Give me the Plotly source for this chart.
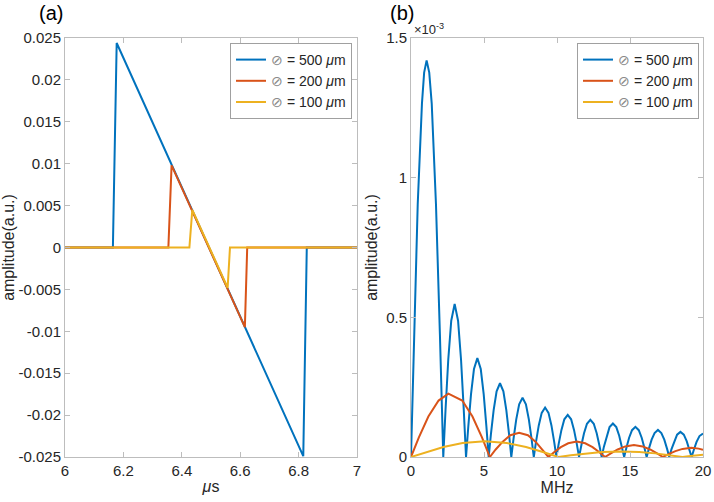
import plotly.graph_objects as go

# --- data ---
sizes = ["500", "200", "100"]
colors = ["#0072BD", "#D95319", "#EDB120"]

# (a) time signals, microseconds / a.u.
t_500 = [6.0, 6.164, 6.177, 6.816, 6.828, 7.0]
p_500 = [0, 0, 0.0244, -0.0249, 0, 0]
t_200 = [6.0, 6.354, 6.365, 6.616, 6.624, 7.0]
p_200 = [0, 0, 0.0098, -0.0095, 0, 0]
t_100 = [6.0, 6.426, 6.436, 6.557, 6.565, 7.0]
p_100 = [0, 0, 0.0045, -0.0048, 0, 0]

# (b) spectra, MHz / amplitude in units of 1e-3
f_500 = [0, 0.2, 0.46, 0.75, 0.9, 1.07, 1.25, 1.42, 1.71, 1.98, 2.21,
         2.366, 2.553, 2.756, 2.99, 3.224, 3.427, 3.614, 3.77,
         3.925, 4.111, 4.313, 4.545, 4.778, 4.979, 5.165, 5.32,
         5.475, 5.661, 5.863, 6.095, 6.328, 6.529, 6.715, 6.87,
         7.024, 7.209, 7.409, 7.64, 7.871, 8.071, 8.256, 8.41,
         8.565, 8.751, 8.953, 9.185, 9.418, 9.619, 9.805, 9.96,
         10.115, 10.301, 10.503, 10.735, 10.968, 11.169, 11.355, 11.51,
         11.665, 11.851, 12.053, 12.285, 12.518, 12.719, 12.905, 13.06,
         13.214, 13.399, 13.599, 13.83, 14.061, 14.261, 14.446, 14.6,
         14.754, 14.939, 15.139, 15.37, 15.601, 15.801, 15.986, 16.14,
         16.295, 16.481, 16.683, 16.915, 17.148, 17.349, 17.535, 17.69,
         17.843, 18.027, 18.226, 18.455, 18.685, 18.883, 19.067, 19.22,
         19.374, 19.559, 19.759, 20.0]
a_500 = [0, 0.439, 0.905, 1.265, 1.376, 1.42, 1.376, 1.265, 0.905, 0.439, 0,
         0.169, 0.349, 0.488, 0.548, 0.488, 0.349, 0.169, 0,
         0.109, 0.225, 0.315, 0.354, 0.315, 0.225, 0.109, 0,
         0.082, 0.168, 0.235, 0.264, 0.235, 0.168, 0.082, 0,
         0.066, 0.135, 0.189, 0.212, 0.189, 0.135, 0.066, 0,
         0.055, 0.113, 0.158, 0.177, 0.158, 0.113, 0.055, 0,
         0.047, 0.096, 0.135, 0.151, 0.135, 0.096, 0.047, 0,
         0.041, 0.085, 0.119, 0.133, 0.119, 0.085, 0.041, 0,
         0.037, 0.076, 0.107, 0.120, 0.107, 0.076, 0.037, 0,
         0.033, 0.069, 0.096, 0.108, 0.096, 0.069, 0.033, 0,
         0.030, 0.062, 0.086, 0.097, 0.086, 0.062, 0.030, 0,
         0.028, 0.057, 0.080, 0.090, 0.080, 0.057, 0.028, 0,
         0.026, 0.054, 0.075, 0.084]

f_200 = [0, 0.54, 1.19, 1.89, 2.56, 3.51, 4.21, 4.86, 5.4,
         5.801, 6.282, 6.804, 7.405, 8.007, 8.528, 9.009, 9.41,
         9.798, 10.264, 10.768, 11.35, 11.932, 12.436, 12.902, 13.29,
         13.686, 14.161, 14.676, 15.27, 15.864, 16.379, 16.854, 17.25,
         17.64, 18.11, 18.6, 19.2, 19.7, 20.0]
a_200 = [0, 0.070, 0.145, 0.202, 0.227, 0.202, 0.145, 0.070, 0,
         0.027, 0.055, 0.078, 0.087, 0.078, 0.055, 0.027, 0,
         0.017, 0.035, 0.049, 0.055, 0.049, 0.035, 0.017, 0,
         0.013, 0.027, 0.038, 0.043, 0.038, 0.027, 0.013, 0,
         0.010, 0.021, 0.029, 0.033, 0.030, 0.026]

f_100 = [0, 1.01, 2.22, 3.535, 5.05, 6.565, 7.878, 9.09, 10.1,
         10.95, 11.97, 13.075, 14.35, 15.625, 16.73, 17.75, 18.6,
         19.0, 19.5, 20.0]
a_100 = [0, 0.017, 0.036, 0.050, 0.056, 0.050, 0.036, 0.017, 0,
         0.006, 0.013, 0.018, 0.020, 0.018, 0.013, 0.006, 0,
         0.003, 0.006, 0.008]

xticks_a = [6, 6.2, 6.4, 6.6, 6.8, 7]
xtext_a = ["6", "6.2", "6.4", "6.6", "6.8", "7"]
yticks_a = [0.025, 0.02, 0.015, 0.01, 0.005, 0, -0.005, -0.01, -0.015, -0.02, -0.025]
ytext_a = ["0.025", "0.02", "0.015", "0.01", "0.005", "0",
           "-0.005", "-0.01", "-0.015", "-0.02", "-0.025"]
xticks_b = [0, 5, 10, 15, 20]
yticks_b = [0, 0.5, 1, 1.5]
ytext_b = ["0", "0.5", "1", "1.5"]

FONT = "Liberation Sans, Arial, sans-serif"
AXC = "#bdbdbd"
TXT = "#262626"

ML, MR, MT, MB = 65, 11, 38, 45
PW, PH = 714 - ML - MR, 502 - MT - MB


def label(s):
    return '<span style="color:#8a8a8a">⊘</span> = ' + s + ' <i>μ</i>m'


def px(x, y):
    # pixel position -> paper coordinates
    return (x - ML) / PW, 1 - (y - MT) / PH


fig = go.Figure()

for t, p, s, c in zip([t_500, t_200, t_100], [p_500, p_200, p_100], sizes, colors):
    fig.add_trace(go.Scatter(x=t, y=p, mode="lines", name=label(s),
                             line=dict(color=c, width=2), xaxis="x", yaxis="y",
                             legend="legend"))

for f, a, s, c in zip([f_500, f_200, f_100], [a_500, a_200, a_100], sizes, colors):
    fig.add_trace(go.Scatter(x=f, y=[v * 1e-3 for v in a], mode="lines", name=label(s),
                             line=dict(color=c, width=2), xaxis="x2", yaxis="y2",
                             legend="legend2"))

axis_style = dict(showline=True, linecolor=AXC, linewidth=1, mirror="ticks",
                  ticks="inside", ticklen=5, tickcolor=AXC, showgrid=False,
                  zeroline=False, automargin=False,
                  tickfont=dict(size=15, color=TXT, family=FONT))

ax_a, ay_a = px(37, 13)
ax_b, ay_b = px(388, 13)
ax_e, ay_e = px(412, 29)
lx_a, ly = px(352, 43)
lx_b, _ = px(699, 43)

fig.update_layout(
    width=714, height=502,
    margin=dict(l=ML, r=MR, t=MT, b=MB),
    paper_bgcolor="white", plot_bgcolor="white",
    font=dict(family=FONT, color=TXT, size=15),
    xaxis=dict(domain=[0, (357 - ML) / PW], range=[6, 7], tickvals=xticks_a,
               ticktext=xtext_a,
               title=dict(text="<i>μ</i>s", standoff=2, font=dict(size=16)),
               anchor="y", **axis_style),
    yaxis=dict(domain=[0, 1], range=[-0.025, 0.025], tickvals=yticks_a, ticktext=ytext_a,
               title=dict(text="amplitude(a.u.)", standoff=4, font=dict(size=16)),
               anchor="x", **axis_style),
    xaxis2=dict(domain=[(411 - ML) / PW, 1], range=[0, 20], tickvals=xticks_b,
                title=dict(text="MHz", standoff=2, font=dict(size=16)),
                anchor="y2", **axis_style),
    yaxis2=dict(domain=[0, 1], range=[0, 1.5e-3], tickvals=[v * 1e-3 for v in yticks_b],
                ticktext=ytext_b,
                title=dict(text="amplitude(a.u.)", standoff=4, font=dict(size=16)),
                anchor="x2", **axis_style),
    legend=dict(x=lx_a, y=ly, xanchor="right", yanchor="top",
                bgcolor="white", bordercolor="#a0a0a0", borderwidth=1,
                font=dict(size=14, color=TXT, family=FONT), itemwidth=30,
                tracegroupgap=0),
    legend2=dict(x=lx_b, y=ly, xanchor="right", yanchor="top",
                 bgcolor="white", bordercolor="#a0a0a0", borderwidth=1,
                 font=dict(size=14, color=TXT, family=FONT), itemwidth=30,
                 tracegroupgap=0),
    showlegend=True,
    annotations=[
        dict(text="(a)", x=ax_a, y=ay_a, xref="paper", yref="paper", showarrow=False,
             font=dict(size=20, color="black"), xanchor="left", yanchor="middle"),
        dict(text="(b)", x=ax_b, y=ay_b, xref="paper", yref="paper", showarrow=False,
             font=dict(size=20, color="black"), xanchor="left", yanchor="middle"),
        dict(text="×10<sup>-3</sup>", x=ax_e, y=ay_e, xref="paper", yref="paper",
             showarrow=False, font=dict(size=13, color=TXT), xanchor="left",
             yanchor="middle"),
    ],
)

# the page body has a default 8px margin; drop it so the figure fills the window
fig.write_html("out.html", config={"displayModeBar": False},
               post_script="document.body.style.margin='0';")
